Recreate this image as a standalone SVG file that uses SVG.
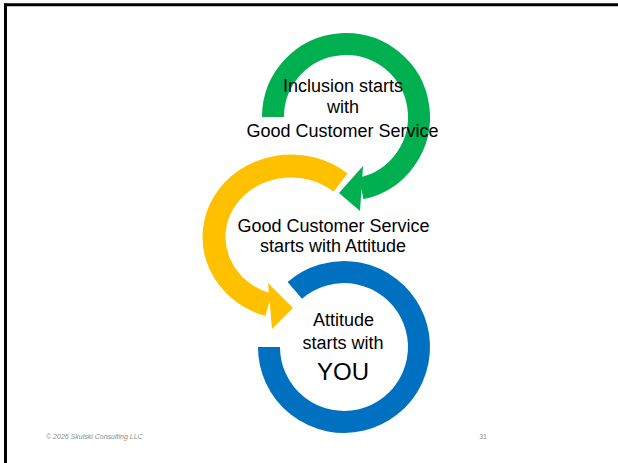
<svg xmlns="http://www.w3.org/2000/svg" width="618" height="463" viewBox="0 0 618 463">
  <style>
    .lbl { font-family: "Liberation Sans", Arial, sans-serif; font-size: 18px; fill: #000; text-anchor: middle; }
    .big { font-size: 24px; }
    .foot { font-family: "Liberation Sans", Arial, sans-serif; font-size: 7px; fill: #8c8c8c; }
    .shaft { fill: none; stroke-linecap: butt; }
  </style>
  <rect x="0" y="0" width="618" height="463" fill="#ffffff"/>
  <g id="frame" stroke="#000" stroke-width="3" fill="none">
    <line x1="5.5" y1="3.5" x2="5.5" y2="463"/>
    <line x1="4" y1="4.8" x2="618" y2="4.8"/>
  </g>
  <g id="connectors">
    <g id="green-arrow">
      <path class="shaft" d="M273,117 A73,73 0 1 1 361.2,188.4" stroke="#00B050" stroke-width="22"/>
      <polygon points="363,166 360,211 339,193" fill="#00B050"/>
    </g>
    <g id="yellow-arrow">
      <path class="shaft" d="M340.5,182.6 A77,71 0 1 0 268.5,304.9" stroke="#FFC000" stroke-width="23"/>
      <polygon points="268,283 272,329 293,308" fill="#FFC000"/>
    </g>
    <g id="blue-ring">
      <path class="shaft" d="M294.8,290.4 A75,75 0 1 1 269,347" stroke="#0070C0" stroke-width="22"/>
    </g>
  </g>
  <g id="node-inclusion">
    <text class="lbl" x="343" y="92">Inclusion starts</text>
    <text class="lbl" x="343" y="113">with</text>
    <text class="lbl" x="342.5" y="137">Good Customer Service</text>
  </g>
  <g id="node-service">
    <text class="lbl" x="333.5" y="232">Good Customer Service</text>
    <text class="lbl" x="333" y="252">starts with Attitude</text>
  </g>
  <g id="node-attitude">
    <text class="lbl" x="343.5" y="326">Attitude</text>
    <text class="lbl" x="343" y="349">starts with</text>
    <text class="lbl big" x="343" y="380">YOU</text>
  </g>
  <g id="footer">
    <text class="foot" x="46" y="439" font-style="italic">© 2026 Skulski Consulting LLC</text>
    <text class="foot" x="487" y="439" text-anchor="end">31</text>
  </g>
</svg>
